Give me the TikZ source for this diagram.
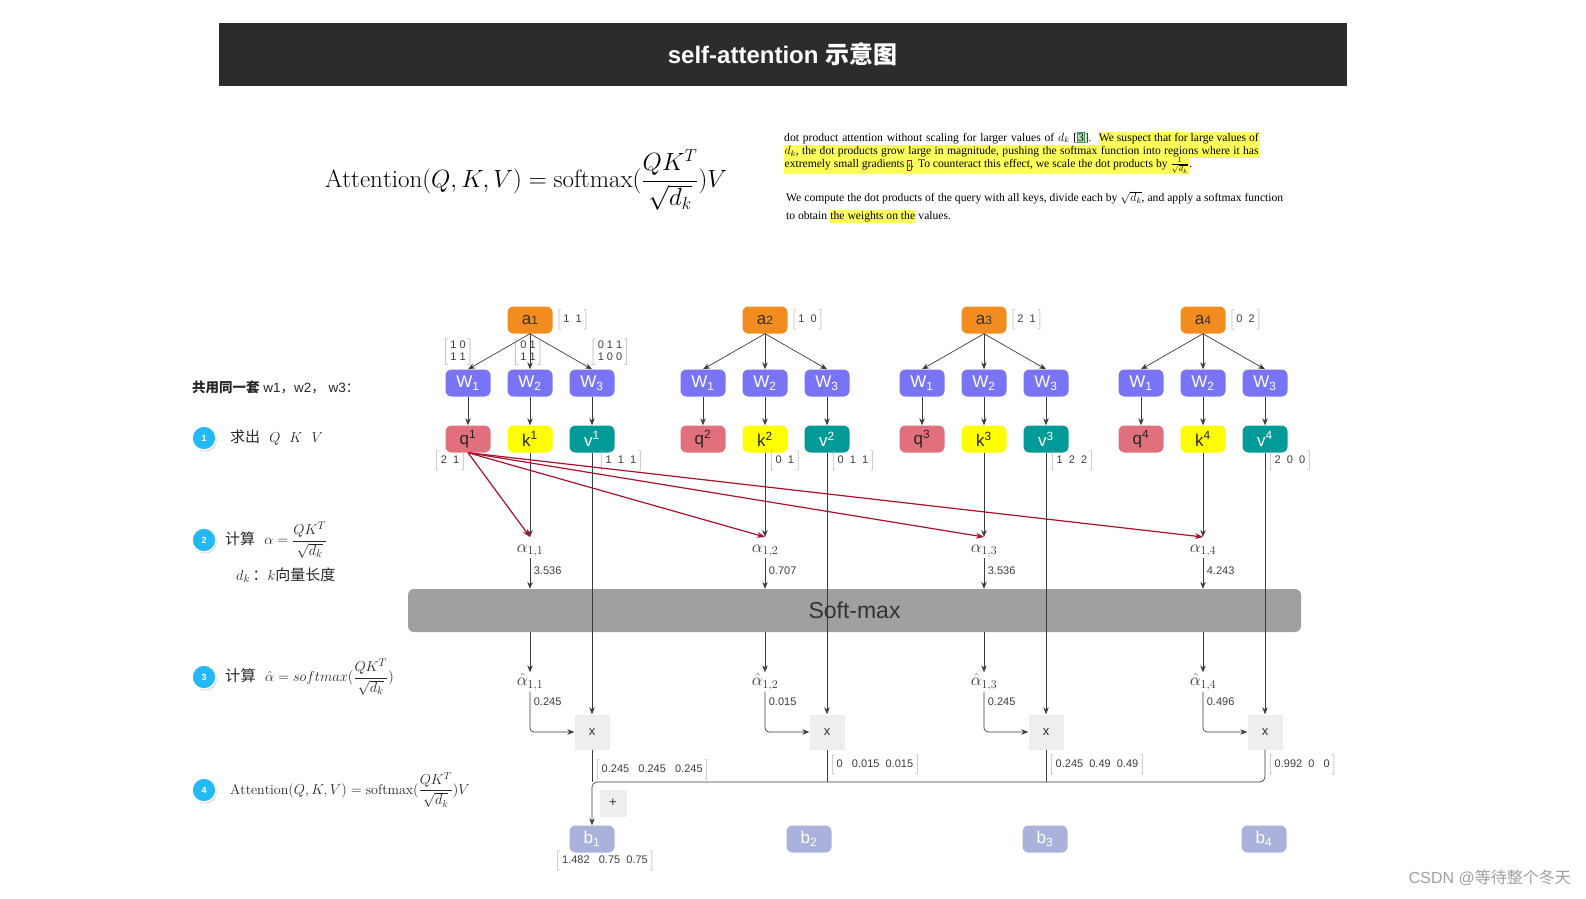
\documentclass[tikz,border=0pt]{standalone}
\usepackage{amsmath}
\usepackage{fontspec}
\setsansfont{Liberation Sans}
\newfontfamily\cjk{Noto Sans CJK SC}
\newfontfamily\papertext{Liberation Serif}
\usetikzlibrary{positioning, arrows.meta, calc, shadows}

\definecolor{bannergray}{RGB}{44,44,44}
\definecolor{aorange}{RGB}{242,140,30}
\definecolor{wblue}{RGB}{120,116,245}
\definecolor{qpink}{RGB}{226,112,124}
\definecolor{kyellow}{RGB}{255,255,0}
\definecolor{vteal}{RGB}{0,155,150}
\definecolor{blav}{RGB}{170,178,220}
\definecolor{xgray}{RGB}{238,238,238}
\definecolor{smgray}{RGB}{160,160,160}
\definecolor{linegray}{RGB}{60,60,60}
\definecolor{qred}{RGB}{172,16,42}
\definecolor{stepblue}{RGB}{35,185,245}
\definecolor{hlyellow}{RGB}{255,255,90}
\definecolor{citegreen}{RGB}{40,160,60}
\definecolor{bracketgray}{RGB}{160,160,160}
\definecolor{numgray}{RGB}{60,60,60}

\newcommand{\vbr}[1]{{\color{bracketgray}$\left[\vphantom{\Big|}\text{\color{numgray}\sffamily\,#1\,}\right]$}}
\newcommand{\mbr}[1]{{\color{bracketgray}$\left[\text{\color{numgray}\sffamily\renewcommand{\arraystretch}{1.0}\begin{tabular}{@{\,}c@{\,}}#1\end{tabular}}\right]$}}
\newcommand{\hlt}[1]{{\setlength{\fboxsep}{0.4pt}\colorbox{hlyellow}{\strut #1}}}

\begin{document}
\begin{tikzpicture}[x=1pt, y=-1pt,
  cell/.style={rounded corners=6pt, minimum width=45, minimum height=27, inner sep=0pt, font=\sffamily\fontsize{17}{17}\selectfont},
  abox/.style={cell, fill=aorange, text=black!80},
  wbox/.style={cell, fill=wblue, text=white},
  qbox/.style={cell, fill=qpink, text=black!85},
  kbox/.style={cell, fill=kyellow, text=black!85},
  vbox/.style={cell, fill=vteal, text=white},
  bbox/.style={cell, fill=blav, text=white},
  xbox/.style={fill=xgray, minimum size=35, inner sep=0pt, font=\sffamily\fontsize{13}{13}\selectfont, text=black!80},
  arr/.style={draw=linegray, line width=0.7pt, -{Stealth[length=7pt, width=5.5pt]}},
  link/.style={draw=linegray, line width=0.7pt},
  redarr/.style={draw=qred, line width=1.2pt, -{Stealth[length=8pt, width=6pt]}},
  num/.style={font=\sffamily\fontsize{11}{12}\selectfont, text=numgray, inner sep=1.5pt},
  alab/.style={font=\fontsize{17}{17}\selectfont, text=black!80, inner sep=1pt},
  stepdot/.style={circle, fill=stepblue, draw=white, line width=1.5pt, minimum size=24, inner sep=0pt, text=white, font=\sffamily\bfseries\fontsize{9}{9}\selectfont, drop shadow={opacity=0.35, shadow xshift=1pt, shadow yshift=-1.5pt}},
  lbl/.style={anchor=west, inner sep=0pt, font=\fontsize{15}{17}\selectfont, text=black!85},
  papline/.style={anchor=base west, inner sep=0pt, font=\papertext\fontsize{11.6}{12.4}\selectfont}
]
\useasboundingbox (0,0) rectangle (1586,898);

% title banner
\node[fill=bannergray, minimum width=1128, minimum height=63, inner sep=0pt, text=white,
  font=\sffamily\bfseries\fontsize{24}{24}\selectfont] (banner) at (782.5,54.5) {self-attention {\cjk\bfseries 示意图}};

% formula and paper excerpt
\node[font=\fontsize{25}{29}\selectfont] (attn) at (526,180) {$\mathrm{Attention}(Q,K,V)=\mathrm{softmax}(\dfrac{QK^T}{\sqrt{d_k}})V$};
\node[papline] (p1) at (784,141) {\makebox[475pt][s]{dot product attention without scaling for larger values of $d_k$ [{\setlength{\fboxsep}{0.5pt}\fcolorbox{citegreen}{citegreen!35}{3}}]. \hlt{We suspect that for large values of}}};
\node[papline] (p2) at (784,154.2) {\hlt{\makebox[474pt][s]{$d_k$, the dot products grow large in magnitude, pushing the softmax function into regions where it has}}};
\node[papline] (p3) at (784,167.4) {\hlt{extremely small gradients {\setlength{\fboxsep}{0.3pt}\fcolorbox{red!80!black}{hlyellow}{\raisebox{0pt}[7pt][2pt]{\tiny 4}}}. To counteract this effect, we scale the dot products by $\frac{1}{\sqrt{d_k}}$}.};
\node[papline] (p4) at (786,201.5) {\makebox[497pt][s]{We compute the dot products of the query with all keys, divide each by $\sqrt{d_k}$, and apply a softmax function}};
\node[papline] (p5) at (786,219) {to obtain \hlt{the weights on the} values.};

% left column: steps
\node[lbl, font=\sffamily\fontsize{13.5}{15}\selectfont] (share) at (192,387) {{\cjk\bfseries 共用同一套} w1{\cjk ，}w2{\cjk ，} w3{\cjk ：}};
\node[stepdot] (s1) at (204,438) {1};
\node[stepdot] (s2) at (204,540) {2};
\node[stepdot] (s3) at (204,677) {3};
\node[stepdot] (s4) at (204,790) {4};
\node[lbl] (t1) at (230,438) {{\cjk 求出}\ \ $Q\ \ K\ \ V$};
\node[lbl] (t2) at (225,540) {{\cjk 计算}\ \ $\alpha=\dfrac{QK^T}{\sqrt{d_k}}$};
\node[lbl] (t2b) at (236,575) {$d_k$\,{\cjk ：}$k${\cjk 向量长度}};
\node[lbl, font=\fontsize{15.3}{18}\selectfont] (t3) at (225,677) {{\cjk 计算}\ \ $\hat{\alpha}=softmax(\dfrac{QK^T}{\sqrt{d_k}})$};
\node[lbl, font=\fontsize{14}{17}\selectfont] (t4) at (230,790) {$\mathrm{Attention}(Q,K,V)=\mathrm{softmax}(\dfrac{QK^T}{\sqrt{d_k}})V$};

% four inputs a -> W -> q k v
\foreach \i/\cx in {1/530, 2/765, 3/984, 4/1203}{
  \node[abox] (a\i) at (\cx,320) {a{\fontsize{12}{12}\selectfont\i}};
  \node[wbox] (wq\i) at (\cx-62,383) {W\textsubscript{1}};
  \node[wbox] (wk\i) at (\cx,383) {W\textsubscript{2}};
  \node[wbox] (wv\i) at (\cx+62,383) {W\textsubscript{3}};
  \node[qbox] (q\i) at (\cx-62,439) {q\textsuperscript{\i}};
  \node[kbox] (k\i) at (\cx,439) {k\textsuperscript{\i}};
  \node[vbox] (v\i) at (\cx+62,439) {v\textsuperscript{\i}};
  \foreach \s in {q,k,v}{
    \draw[arr] (a\i.south) -- (w\s\i.north);
    \draw[arr] (w\s\i) -- (\s\i);
  }
  \coordinate (t\i) at (k\i |- 0,537);
  \draw[arr] (k\i) -- (t\i);
  \node[alab] (al\i) at (k\i |- 0,551) {$\alpha_{1,\i}$};
  \node[alab] (ah\i) at (k\i |- 0,682) {$\hat{\alpha}_{1,\i}$};
  \node[xbox] (x\i) at (v\i |- 0,732) {x};
}

% vectors and matrices
\node[num, right=2pt of a1] (va1) {\vbr{1\ \ 1}};
\node[num, right=2pt of a2] (va2) {\vbr{1\ \ 0}};
\node[num, right=2pt of a3] (va3) {\vbr{2\ \ 1}};
\node[num, right=2pt of a4] (va4) {\vbr{0\ \ 2}};
\node[num] (m1) at (458,352) {\mbr{1\ 0\\1\ 1}};
\node[num] (m2) at (528,352) {\mbr{0\ 1\\1\ 1}};
\node[num] (m3) at (610,352) {\mbr{0\ 1\ 1\\1\ 0\ 0}};
\node[num, anchor=east] (vq1) at (468,461) {\vbr{2\ \ 1}};
\node[num, anchor=west] (vv1) at (597,461) {\vbr{1\ \ 1\ \ 1}};
\node[num, anchor=west] (vk2) at (767,461) {\vbr{0\ \ 1}};
\node[num, anchor=west] (vv2) at (829,461) {\vbr{0\ \ 1\ \ 1}};
\node[num, anchor=west] (vv3) at (1048,461) {\vbr{1\ \ 2\ \ 2}};
\node[num, anchor=west] (vv4) at (1266,461) {\vbr{2\ \ 0\ \ 0}};

% q1 against every key
\foreach \i in {1,...,4}
  \draw[redarr] (q1.south) -- (t\i);

% soft-max
\node[fill=smgray, rounded corners=6pt, minimum width=893, minimum height=43, inner sep=0pt,
  font=\sffamily\fontsize{23}{23}\selectfont, text=black!80] (sm) at (854.5,610.5) {Soft-max};
\foreach \i/\val in {1/3.536, 2/0.707, 3/3.536, 4/4.243}
  \draw[arr] (al\i.south) -- (al\i.south |- sm.north) node[num, pos=0.4, anchor=west, xshift=2] {\val};
\foreach \i/\val in {1/0.245, 2/0.015, 3/0.245, 4/0.496}{
  \draw[arr] (k\i |- sm.south) -- (ah\i.north);
  \draw[arr, rounded corners=4pt] (ah\i.south) |- (x\i.west) node[num, pos=0.12, anchor=west, xshift=2] {\val};
}
\foreach \i in {1,...,4}
  \draw[arr] (v\i) -- (x\i);

% weighted sum
\node[bbox] (b1) at (592,839) {b\textsubscript{1}};
\node[bbox] (b2) at (809,839) {b\textsubscript{2}};
\node[bbox] (b3) at (1045,839) {b\textsubscript{3}};
\node[bbox] (b4) at (1264,839) {b\textsubscript{4}};
\draw[link] (x1.south) -- (x1.south |- 0,782);
\draw[link] (x2.south) -- (x2.south |- 0,782);
\draw[link] (x3.south) -- (x3.south |- 0,782);
\draw[arr, rounded corners=5pt] (x4.south) |- (x1.south |- 0,782) -- (b1.north);
\node[num, anchor=west] (o1) at ($(x1.south)+(1,20)$) {\vbr{0.245\ \ \ 0.245\ \ \ 0.245}};
\node[num, anchor=west] (o2) at ($(x2.south)+(1,15)$) {\vbr{0\ \ \ 0.015\ \ 0.015}};
\node[num, anchor=west] (o3) at ($(x3.south)+(1,15)$) {\vbr{0.245\ \ 0.49\ \ 0.49}};
\node[num, anchor=west] (o4) at ($(x4.south)+(1,15)$) {\vbr{0.992\ \ 0\ \ \ 0}};
\node[xbox, minimum size=27] (plus) at (613,803) {+};
\node[num] (ob1) at (605,861) {\vbr{1.482\ \ \ 0.75\ \ 0.75}};

\node[anchor=east, text=gray!75, font=\sffamily\fontsize{16}{16}\selectfont, inner sep=0pt] (mark) at (1571,878) {CSDN @{\cjk 等待整个冬天}};
\end{tikzpicture}
\end{document}
